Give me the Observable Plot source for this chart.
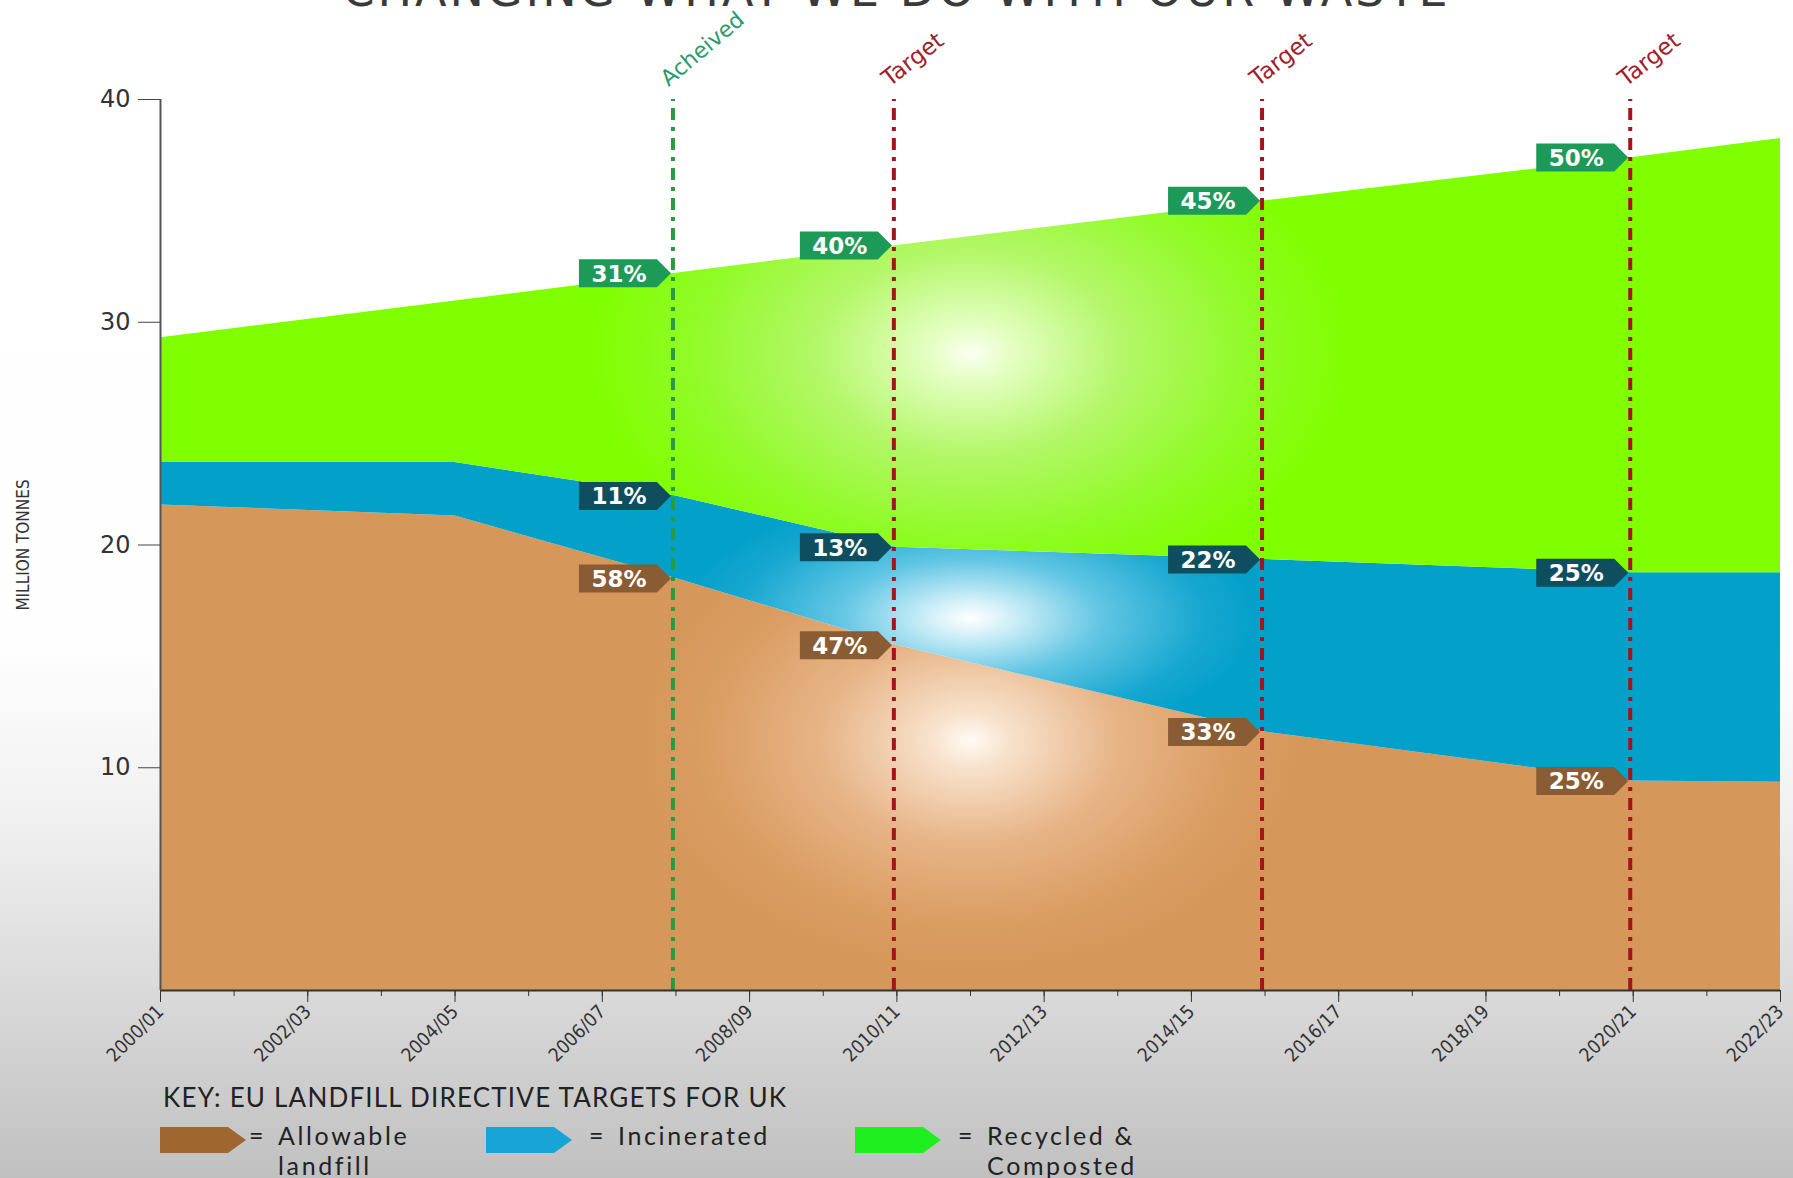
<!DOCTYPE html>
<html>
<head>
<meta charset="utf-8">
<script src="https://cdn.jsdelivr.net/npm/d3@7"></script>
<script src="https://cdn.jsdelivr.net/npm/@observablehq/plot@0.6"></script>
<style>
  html, body { margin: 0; padding: 0; }
  body {
    width: 1793px; height: 1178px; overflow: hidden; position: relative;
    background: linear-gradient(to bottom, #ffffff 0%, #fefefe 55%, #f0f0f0 70%, #dadada 84%, #c0c0c0 100%);
  }
  #chart { position: absolute; left: 0; top: 0; }
  #title {
    position: absolute; left: 0; top: -33px; width: 1793px; text-align: center;
    font: 46px/46px "DejaVu Sans", sans-serif; letter-spacing: 3px; color: #3a3a3a; white-space: nowrap;
  }
  .key { position: absolute; font-family: Lato, "Open Sans", sans-serif; color: #222; white-space: nowrap; }
  #keytitle { left: 163px; top: 1083px; font-size: 26px; line-height: 28px; letter-spacing: 1.2px; }
  .item { position: absolute; top: 1120px; font-family: Lato, "Open Sans", sans-serif; font-size: 25px; line-height: 30px; color: #222; display: flex; letter-spacing: 2.6px; white-space: nowrap; }
  .item .eq { margin-right: 12px; }
  .sw { position: absolute; top: 1126px; }
</style>
</head>
<body>
<div id="title"></div>
<div id="chart"></div>
<div id="keytitle" class="key"></div>
<div id="legend"></div>
<script>
// ---- data ----
const years        = [2000, 2004, 2007, 2010, 2015, 2020, 2022];
const landfill     = [21.8, 21.3, 18.5, 15.5, 11.6, 9.4, 9.35];
const incinerated  = [1.9, 2.4, 3.7, 4.4, 7.75, 9.35, 9.4];
const recycled     = [5.6, 7.25, 10.0, 13.55, 16.1, 18.65, 19.5];

const markerYears  = [2007, 2010, 2015, 2020];
const markerLabels = ["Acheived", "Target", "Target", "Target"];
const recycledPct  = ["31%", "40%", "45%", "50%"];
const incinPct     = ["11%", "13%", "22%", "25%"];
const landfillPct  = ["58%", "47%", "33%", "25%"];

const seriesNames  = ["Allowable landfill", "Incinerated", "Recycled & Composted"];
const yTicks       = [10, 20, 30, 40];
const xMinorTicks  = [2000,2001,2002,2003,2004,2005,2006,2007,2008,2009,2010,2011,2012,2013,2014,2015,2016,2017,2018,2019,2020,2021,2022];
const xTickValues  = [2000, 2002, 2004, 2006, 2008, 2010, 2012, 2014, 2016, 2018, 2020, 2022];
const xTickLabels  = ["2000/01","2002/03","2004/05","2006/07","2008/09","2010/11","2012/13","2014/15","2016/17","2018/19","2020/21","2022/23"];
const titleText    = "CHANGING WHAT WE DO WITH OUR WASTE";
const keyTitle     = "KEY: EU LANDFILL DIRECTIVE TARGETS FOR UK";
const yLabel       = "MILLION TONNES";

// ---- derived tables ----
const rows = years.map((yr, i) => ({
  year: yr,
  l1: landfill[i],
  i1: landfill[i] + incinerated[i],
  r1: landfill[i] + incinerated[i] + recycled[i]
}));
const markers = markerYears.map((yr, k) => ({year: yr, label: markerLabels[k]}));
const tags = [];
markerYears.forEach((yr, k) => {
  const r = rows[years.indexOf(yr)];
  tags.push({year: yr, y: r.r1, label: recycledPct[k], kind: "r"});
  tags.push({year: yr, y: r.i1, label: incinPct[k], kind: "i"});
  tags.push({year: yr, y: r.l1, label: landfillPct[k], kind: "l"});
});

const tagColors = {r: "#1e9a58", i: "#0e4e5e", l: "#8a5c33"};
const tagShape = {
  draw(ctx) {
    ctx.moveTo(0, 0);
    ctx.lineTo(-14, -14);
    ctx.lineTo(-92, -14);
    ctx.lineTo(-92, 14);
    ctx.lineTo(-14, 14);
    ctx.closePath();
  }
};
const font = "DejaVu Sans, sans-serif";
const narrow = "Liberation Sans Narrow, DejaVu Sans Condensed, sans-serif";

const tagMarks = ["r", "i", "l"].map(kind =>
  Plot.dot(tags.filter(d => d.kind === kind), {
    x: "year", y: "y", symbol: tagShape, r: 10, fill: tagColors[kind], stroke: "none", dx: -5
  })
);

const chart = Plot.plot({
  width: 1793,
  height: 1080,
  marginTop: 99,
  marginBottom: 90,
  marginLeft: 160,
  marginRight: 13,
  style: {background: "transparent", fontFamily: font, color: "#333", overflow: "visible"},
  x: {domain: [2000, 2022]},
  y: {domain: [0, 40]},
  marks: [
    Plot.areaY(rows, {x: "year", y1: 0, y2: "l1", fill: "url(#gBrown)"}),
    Plot.areaY(rows, {x: "year", y1: "l1", y2: "i1", fill: "url(#gBlue)"}),
    Plot.areaY(rows, {x: "year", y1: "i1", y2: "r1", fill: "url(#gGreen)"}),
    Plot.ruleX(markers.filter(d => d.label !== "Target"), {x: "year", y1: 0, y2: 40, stroke: "#2a9a40", strokeWidth: 4, strokeDasharray: "12,7,4,7", dx: -3}),
    Plot.ruleX(markers.filter(d => d.label === "Target"), {x: "year", y1: 0, y2: 40, stroke: "#a3141c", strokeWidth: 4, strokeDasharray: "12,7,4,7", dx: -3}),
    Plot.text(markers.filter(d => d.label !== "Target"), {x: "year", y: 40, text: "label", rotate: -40, textAnchor: "start", dx: -12, dy: -18, fill: "#2a9a6a", fontSize: 22, fontFamily: font}),
    Plot.text(markers.filter(d => d.label === "Target"), {x: "year", y: 40, text: "label", rotate: -38, textAnchor: "start", dx: -12, dy: -18, fill: "#a0202c", fontSize: 23, fontFamily: font}),
    ...tagMarks,
    Plot.text(tags, {x: "year", y: "y", text: "label", dx: -57, dy: 1, fill: "white", fontWeight: "bold", fontSize: 23, fontFamily: font, letterSpacing: "1.2px"}),
    Plot.ruleY([0], {stroke: "#333", strokeWidth: 2}),
    Plot.ruleX([2000], {y1: 0, y2: 40, stroke: "#555", strokeWidth: 2}),
    Plot.axisY({ticks: yTicks, tickSize: 22, tickPadding: 8, fontSize: 24, label: null, stroke: "#444"}),
    Plot.axisX({ticks: xMinorTicks, tickSize: 6, tickFormat: () => "", label: null, stroke: "#333"}),
    Plot.axisX({ticks: xTickValues, tickSize: 12, tickPadding: 6, tickRotate: -45, fontSize: 19,
      fontFamily: "DejaVu Sans Condensed, sans-serif", tickFormat: d => xTickLabels[xTickValues.indexOf(d)], label: null, stroke: "#333"}),
    Plot.text([yLabel], {frameAnchor: "left", textAnchor: "middle", text: d => d, rotate: -90, dx: -137, fontSize: 17, fontFamily: narrow, fill: "#333"})
  ]
});

// radial highlight gradients positioned with the chart's own scales
const xs = chart.scale("x"), ys = chart.scale("y");
function grad(id, cx, cy, rx, ry, stops) {
  return `<radialGradient id="${id}" gradientUnits="userSpaceOnUse" cx="0" cy="0" r="1" gradientTransform="translate(${cx},${cy}) scale(${rx},${ry})">` +
    stops.map(([o, c]) => `<stop offset="${o}" stop-color="${c}"/>`).join("") + `</radialGradient>`;
}
const gx = xs.apply(2011);
const defs = "<defs>" +
  grad("gGreen", gx, ys.apply(28.6), 380, 250, [[0, "#fbfff2"], [0.1, "#e6ffc6"], [0.4, "#b4f76a"], [0.75, "#8ffb24"], [1, "#80ff00"]]) +
  grad("gBlue", gx, ys.apply(16.7), 290, 130, [[0, "#ffffff"], [0.12, "#d8f2fa"], [0.45, "#62c6e4"], [0.8, "#17a7d0"], [1, "#03a0c9"]]) +
  grad("gBrown", gx, ys.apply(11.2), 330, 230, [[0, "#fffaf4"], [0.12, "#f8e2cc"], [0.45, "#e7b487"], [0.8, "#da9d62"], [1, "#d6975a"]]) +
  "</defs>";
chart.insertAdjacentHTML("afterbegin", defs);
document.getElementById("chart").appendChild(chart);

document.getElementById("title").textContent = titleText;
document.getElementById("keytitle").textContent = keyTitle;

// legend (key)
const swatchColors = ["#a0662f", "#18a4d6", "#1fef1f"];
const swatchX = [160, 486, 855];
const textX = [249, 589, 958];
const legendLines = [["Allowable", "landfill"], ["Incinerated"], ["Recycled &", "Composted"]];
const legend = document.getElementById("legend");
seriesNames.forEach((name, i) => {
  const sw = document.createElementNS("http://www.w3.org/2000/svg", "svg");
  sw.setAttribute("class", "sw");
  sw.setAttribute("width", 90); sw.setAttribute("height", 30);
  sw.style.left = swatchX[i] + "px";
  sw.innerHTML = `<path d="M0,1 H68 L86,14 L68,27 H0 Z" fill="${swatchColors[i]}"/>`;
  legend.appendChild(sw);
  const it = document.createElement("div");
  it.className = "item";
  it.style.left = textX[i] + "px";
  it.title = name;
  it.innerHTML = `<span class="eq">=</span><span>${legendLines[i].join("<br>")}</span>`;
  legend.appendChild(it);
});
</script>
</body>
</html>
